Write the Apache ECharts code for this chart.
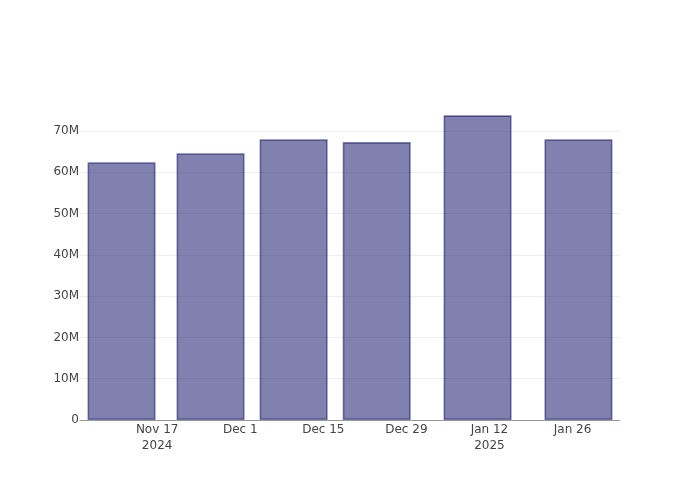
<!DOCTYPE html>
<html><head><meta charset="utf-8">
<script src="https://cdn.jsdelivr.net/npm/echarts@6/dist/echarts.min.js"></script>
<style>html,body{margin:0;padding:0;background:#fff}#c{width:700px;height:500px}</style>
</head><body><div id="c"></div>
<script>
const barDates = ['2024-11-11','2024-11-26','2024-12-10','2024-12-24','2025-01-10','2025-01-27'];
const barValues = [62.4e6, 64.6e6, 68.0e6, 67.3e6, 73.8e6, 68.0e6];
const xTickDates = ['2024-11-17','2024-12-01','2024-12-15','2024-12-29','2025-01-12','2025-01-26'];
const xTickLabels = ['Nov 17\n2024','Dec 1','Dec 15','Dec 29','Jan 12\n2025','Jan 26'];
const yTickValues = [0,10e6,20e6,30e6,40e6,50e6,60e6,70e6];
const yTickLabels = ['0','10M','20M','30M','40M','50M','60M','70M'];
const xRange = ['2024-11-04','2025-02-03'];
const yMax = 77.5e6;

function ts(s){const p=s.split('-').map(Number);return Date.UTC(p[0],p[1]-1,p[2]);}
const xTickTs = xTickDates.map(ts);
const xLabelMap = {}; xTickTs.forEach((t,i)=>xLabelMap[t]=xTickLabels[i]);
const yLabelMap = {}; yTickValues.forEach((v,i)=>yLabelMap[v]=yTickLabels[i]);

const chart = echarts.init(document.getElementById('c'), null, {renderer:'canvas'});
chart.setOption({
  animation:false,
  backgroundColor:'#fff',
  textStyle:{fontFamily:'DejaVu Sans'},
  grid:{left:80,right:80,top:100,bottom:80},
  xAxis:{
    type:'value', min:ts(xRange[0]), max:ts(xRange[1]),
    axisLine:{show:true,lineStyle:{color:'#999',width:1}},
    axisTick:{show:false},
    splitLine:{show:false},
    axisLabel:{customValues:xTickTs, formatter:v=>xLabelMap[v]||'', color:'#444', fontSize:12, margin:2, lineHeight:16, fontFamily:'DejaVu Sans'}
  },
  yAxis:{
    type:'value', min:0, max:yMax,
    axisLine:{show:false}, 
    axisTick:{show:false, customValues:yTickValues},
    splitLine:{show:true,lineStyle:{color:'#eee',width:1}},
    axisLabel:{customValues:yTickValues, formatter:v=>yLabelMap[v]!==undefined?yLabelMap[v]:'', color:'#444', fontSize:12, margin:1, padding:[2,0,0,0], fontFamily:'DejaVu Sans'}
  },
  series:[{
    type:'bar',
    data: barDates.map((d,i)=>[ts(d), barValues[i]]),
    barWidth:68,
    itemStyle:{color:'rgb(25,25,112)', opacity:0.55, borderColor:'rgb(20,20,100)', borderWidth:1.6}
  }]
});
</script></body></html>
